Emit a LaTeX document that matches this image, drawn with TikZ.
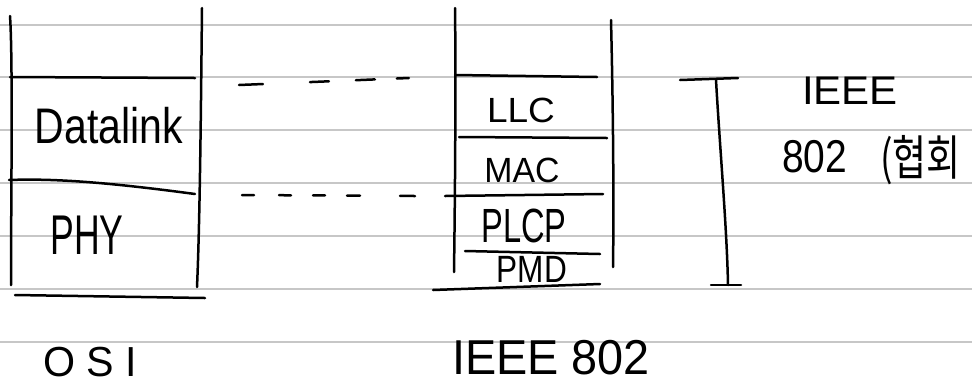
\documentclass[tikz,border=0pt]{standalone}
\usepackage{fontspec}
\setmainfont{Liberation Sans}
\newfontfamily\krfont{Noto Sans CJK KR}
\begin{document}
\begin{tikzpicture}[x=1pt,y=-1pt,
  ink/.style={line width=2.5pt, line cap=round, line join=round, black},
  rule/.style={line width=1.4pt, black!22},
  hand/.style={inner sep=0pt, font=\fontsize{20}{20}\selectfont}]
\useasboundingbox (0,0) rectangle (972,384);

% ruled notebook lines
\foreach \yy in {25,77,130,183,236,289,342}
  \draw[rule] (0,\yy) -- (972,\yy);

% ---- OSI stack ----
\draw[ink] (10,16) .. controls (13,60) and (11,200) .. (11,285);
\draw[ink] (202,8) .. controls (201,100) and (200,220) .. (197,287);
\coordinate (osiA) at (10,77);  \coordinate (osiB) at (195,78);
\draw[ink] (osiA) -- (osiB);
\coordinate (osiC) at (9,180);  \coordinate (osiD) at (195,194);
\draw[ink] (osiC) .. controls (60,178) and (120,184) .. (osiD);
\draw[ink] (15,295) -- (205,298);

\node[hand] (dl)  at (109,126) {\scalebox{2.05}[2.5]{Datalink}};
\node[hand] (phy) at (87,235)  {\scalebox{1.78}[2.8]{PHY}};
\node[hand] (osi) at (90,362)  {\scalebox{2.06}[2.1]{O S I}};

% ---- IEEE 802 stack ----
\draw[ink] (455,8) .. controls (456,80) and (455,200) .. (454,272);
\draw[ink] (611,20) .. controls (613,100) and (614,200) .. (613,267);
\coordinate (ieA) at (455,75);
\draw[ink] (ieA) -- (597,77);
\draw[ink] (459,137) -- (607,138);
\coordinate (ieC) at (445,196);
\draw[ink] (ieC) -- (603,194);
\draw[ink] (465,251) -- (600,254);
\draw[ink] (433,290) -- (600,284);

\node[hand] (llc)  at (521,110) {\scalebox{1.85}[1.75]{LLC}};
\node[hand] (mac)  at (522,170) {\scalebox{1.69}[1.75]{MAC}};
\node[hand] (plcp) at (524,226) {\scalebox{1.63}[2.4]{PLCP}};
\node[hand] (pmd)  at (532,269) {\scalebox{1.58}[1.9]{PMD}};
\node[hand] (ieee) at (551,358) {\scalebox{2.34}[2.45]{IEEE 802}};

% ---- layer correspondences ----
\coordinate (u1) at (239,85);  \coordinate (u2) at (409,78);
\draw[ink, dash pattern=on 24pt off 47pt on 19pt off 27pt on 19pt off 22pt on 12pt] (u1) -- (u2);
\coordinate (l1) at (242,195); \coordinate (l2) at (415,196);
\draw[ink, dash pattern=on 12pt off 25pt on 12pt off 22pt on 12pt off 22pt on 13pt off 40pt on 15pt] (l1) -- (l2);

% ---- bracket over the 802 layers ----
\coordinate (bt) at (716,80); \coordinate (bb) at (728,285);
\draw[ink] (680,80) -- (738,78);
\draw[ink] (bt) .. controls (720,150) and (727,230) .. (bb);
\draw[ink] (711,285) -- (741,285);

\node[hand] (ieeeR) at (850,91)  {\scalebox{2.1}[2.0]{IEEE}};
\node[hand, anchor=west] (n802) at (782,157) {\scalebox{1.95}[2.3]{802}};
\node[hand, anchor=west] (kr) at (880,160) {\scalebox{1.85}[2.4]{\krfont (협회}};
\end{tikzpicture}
\end{document}
